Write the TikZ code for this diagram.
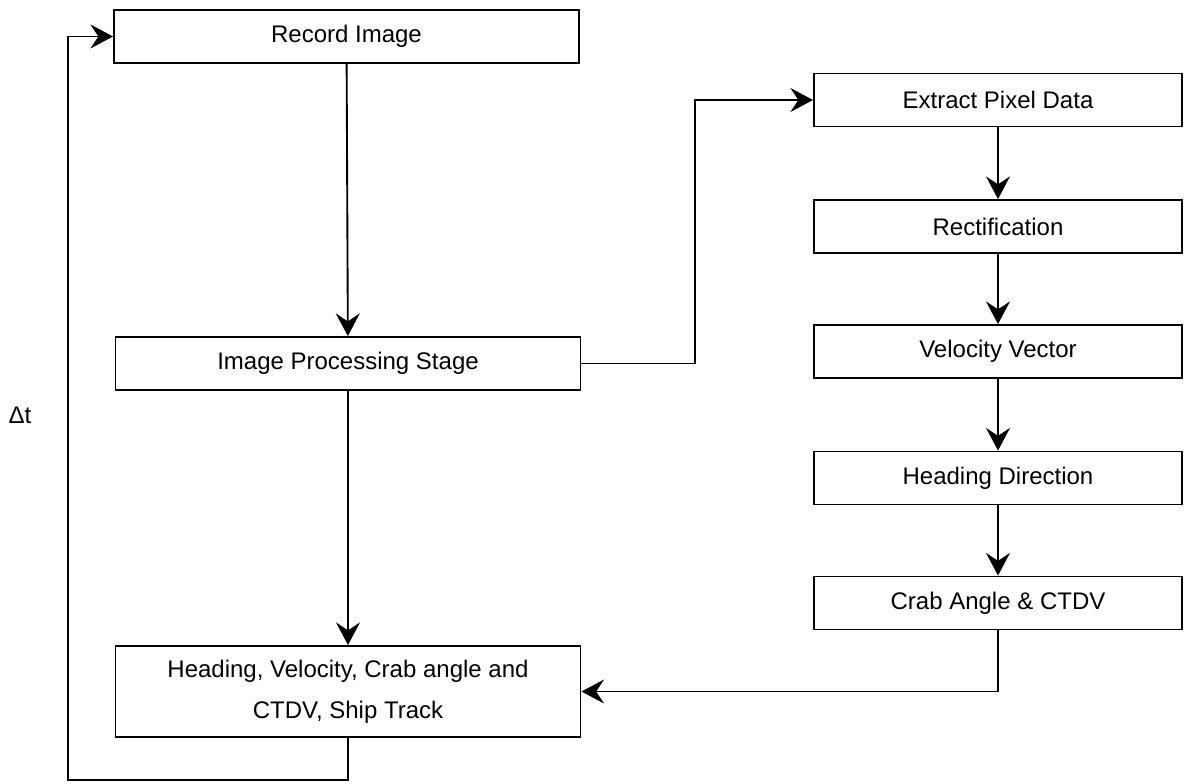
\documentclass[tikz,border=0pt]{standalone}
\usepackage{fontspec}
\setmainfont{Liberation Sans}
\usetikzlibrary{arrows.meta}

\begin{document}
\begin{tikzpicture}[x=0.75pt,y=-0.75pt,
		box/.style={draw,line width=1.4pt,minimum height=53*0.75pt,inner sep=0pt,font=\fontsize{18}{31}\selectfont},
		leftbox/.style={box,minimum width=465*0.75pt},
		rightbox/.style={box,minimum width=368*0.75pt},
		arr/.style={line width=1.4pt,-{Stealth[length=17pt,width=18pt,inset=6pt]}}]
		\useasboundingbox (0,0) rectangle (1185,783);
		% Kasten links
		\node[leftbox] (record) at (346.5,36.5) {Record Image};
		\node[leftbox] (improc) at (348,363.5) {Image Processing Stage};
		\node[leftbox,minimum height=91*0.75pt,align=center] (result) at (348,691.5) {Heading, Velocity, Crab angle and\\CTDV, Ship Track};
		% Kasten rechts
		\node[rightbox] (extract) at (998,100) {Extract Pixel Data};
		\node[rightbox] (rectif) at (998,226.5) {Rectification};
		\node[rightbox] (velvec) at (998,351.5) {Velocity Vector};
		\node[rightbox] (heading) at (998,478) {Heading Direction};
		\node[rightbox] (crab) at (998,603) {Crab Angle \& CTDV};
		% Hilfspunkte
		\coordinate (bend) at (695,0);
		\coordinate (loopbot) at (68,780);
		\node[font=\fontsize{18}{22}\selectfont] (dt) at (20,415) {Δt};
		% Pfeile
		\draw[arr] (record) -- (improc);
		\draw[arr] (improc.east) -- (improc.east -| bend) |- (extract.west);
		\draw[arr] (extract) -- (rectif);
		\draw[arr] (rectif) -- (velvec);
		\draw[arr] (velvec) -- (heading);
		\draw[arr] (heading) -- (crab);
		\draw[arr] (crab.south) |- (result.east);
		\draw[arr] (improc) -- (result);
		\draw[arr] (result.south) |- (loopbot) |- (record.west);
	\end{tikzpicture}
\end{document}
